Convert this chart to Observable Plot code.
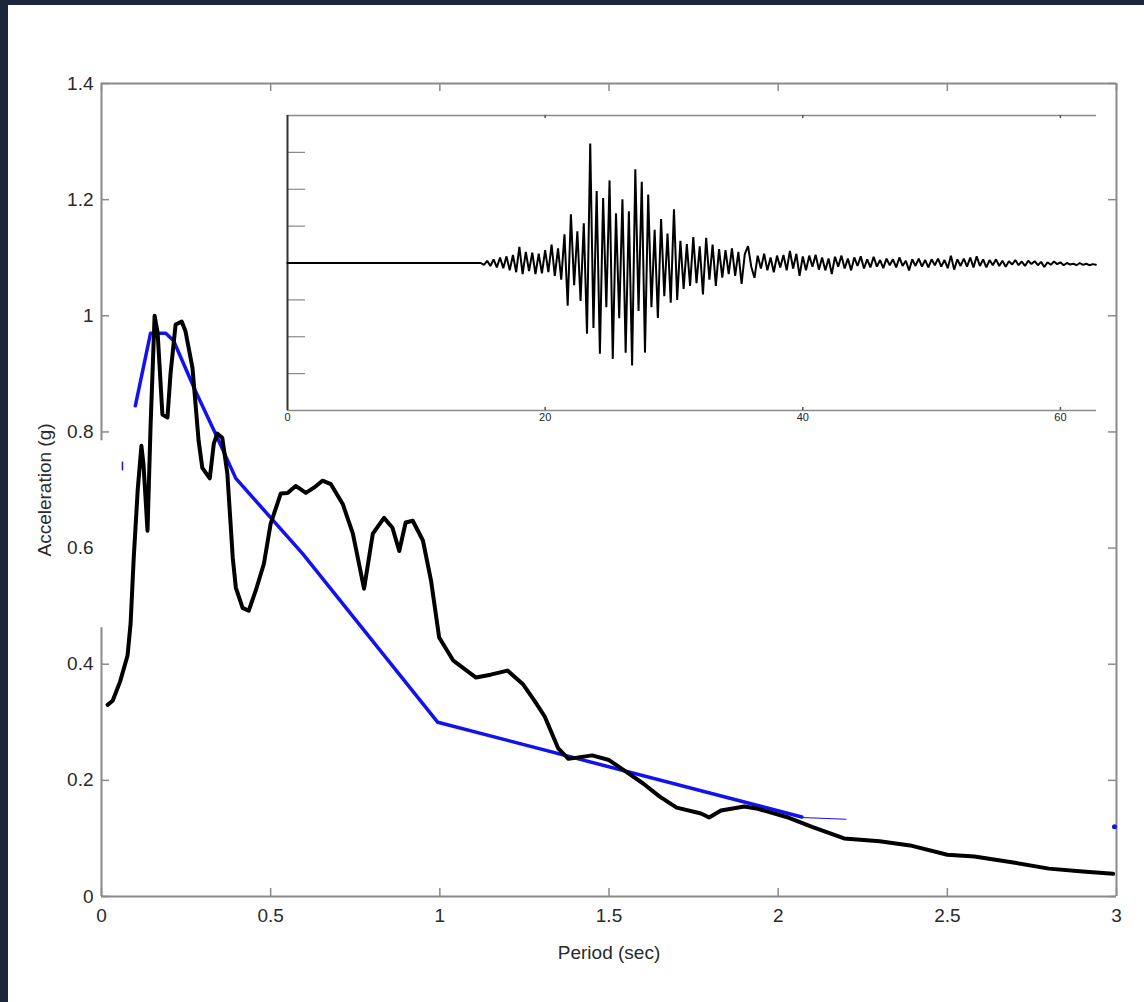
<!DOCTYPE html>
<html><head><meta charset="utf-8">
<script src="https://cdn.jsdelivr.net/npm/d3@7"></script>
<script src="https://cdn.jsdelivr.net/npm/@observablehq/plot@0.6"></script>
<style>
html,body{margin:0;padding:0;background:#1c2739;width:1144px;height:1002px;overflow:hidden;font-family:"Liberation Sans",Arial,sans-serif;}
#panel{position:absolute;left:8px;top:5px;width:1136px;height:997px;background:#fff;}
#main{position:absolute;left:0;top:0;}
#inset{position:absolute;left:250px;top:100px;}
</style></head><body>
<div id="panel"></div><div id="main"></div><div id="inset"></div>
<script>
// ---------- Response spectrum (black) ----------
const specPeriod = [0.018,0.033,0.055,0.077,0.086,0.095,0.107,0.118,0.124,0.136,0.145,0.157,0.166,0.180,0.195,0.204,0.219,0.237,0.248,0.269,0.287,0.298,0.320,0.332,0.342,0.357,0.372,0.388,0.397,0.417,0.435,0.456,0.480,0.500,0.530,0.550,0.574,0.604,0.628,0.653,0.678,0.713,0.743,0.776,0.802,0.835,0.860,0.880,0.899,0.920,0.950,0.974,0.998,1.04,1.107,1.15,1.20,1.245,1.28,1.31,1.35,1.38,1.45,1.50,1.55,1.60,1.65,1.70,1.772,1.796,1.831,1.90,1.94,2.03,2.10,2.195,2.30,2.39,2.50,2.58,2.70,2.80,2.90,2.99];
const specAccel = [0.33,0.337,0.37,0.415,0.47,0.58,0.70,0.776,0.745,0.63,0.81,1.0,0.97,0.83,0.825,0.90,0.985,0.99,0.974,0.91,0.785,0.738,0.72,0.78,0.797,0.79,0.728,0.583,0.532,0.497,0.492,0.527,0.573,0.642,0.694,0.695,0.707,0.695,0.704,0.716,0.71,0.676,0.625,0.53,0.625,0.652,0.635,0.595,0.644,0.647,0.613,0.544,0.446,0.406,0.377,0.382,0.389,0.366,0.337,0.31,0.255,0.237,0.243,0.235,0.215,0.195,0.172,0.153,0.143,0.136,0.148,0.155,0.151,0.136,0.12,0.10,0.095,0.088,0.072,0.069,0.058,0.048,0.043,0.039];

// ---------- Design spectrum (blue) ----------
const designPeriod = [0.10,0.145,0.19,0.213,0.278,0.337,0.397,0.595,0.994,2.07];
const designAccel  = [0.845,0.97,0.97,0.957,0.87,0.797,0.72,0.59,0.30,0.137];
const designTailPeriod = [2.07,2.2];
const designTailAccel  = [0.136,0.133];
const blueDotPeriod = [2.994];
const blueDotAccel  = [0.12];
const blueDashPeriod = [0.062];
const blueDashFrom = [0.733];
const blueDashTo = [0.748];

// ---------- Main axes ----------
const xTicks = [0,0.5,1,1.5,2,2.5,3];
const yTicks = [0,0.2,0.4,0.6,0.8,1,1.2,1.4];
const leftTicks = [0,0.2,0.4,0.8,1,1.2,1.4];
const leftAxisFrom = [0,0.785];
const leftAxisTo = [0.463,1.4];

// ---------- Inset accelerogram ----------
const quietTime = [0,15];
const quietVals = [0,0];
const traceStart = 15.25, traceStep = 0.25;
const traceVals = [
-0.05,0.06,-0.08,0.1,-0.12,0.15,-0.14,0.18,-0.2,0.22,-0.25,
0.44,-0.3,0.3,-0.22,0.28,-0.3,0.25,-0.28,0.35,-0.25,0.5,-0.35,
0.4,-0.45,0.78,-1.16,1.32,-0.6,0.86,-1.03,1.08,-1.92,3.24,-1.76,
1.95,-2.46,1.76,-1.2,2.24,-2.6,1.35,-1.5,1.73,-2.43,1.4,-2.78,
2.54,-1.3,2.2,-2.43,1.86,-1.2,0.9,-1.49,1.19,-0.9,0.8,-1.08,
1.46,-1.0,0.6,-0.7,0.51,-0.62,0.7,-0.55,0.45,-0.85,0.68,-0.45,
0.5,-0.62,0.38,-0.4,0.35,-0.3,0.4,-0.35,0.3,-0.57,0.25,0.46,
-0.1,-0.4,0.2,-0.15,0.25,-0.2,0.15,-0.25,0.2,-0.12,0.22,-0.2,
0.33,-0.15,0.25,-0.35,0.18,-0.2,0.2,-0.1,0.22,-0.18,0.15,-0.2,
0.12,-0.3,0.17,-0.1,0.2,-0.15,0.12,-0.2,0.15,-0.08,0.18,-0.15,
0.1,-0.12,0.17,-0.1,0.08,-0.14,0.12,-0.06,0.1,-0.12,0.15,-0.08,
0.06,-0.2,0.1,-0.08,0.12,-0.1,0.08,-0.12,0.1,-0.06,0.12,-0.1,
0.08,-0.14,0.2,-0.18,0.1,-0.08,0.12,-0.1,0.15,-0.12,0.18,-0.08,
0.1,-0.12,0.08,-0.06,0.1,-0.08,0.06,-0.1,0.05,-0.04,0.08,-0.06,
0.04,-0.08,0.06,-0.03,0.05,-0.06,0.03,-0.11,0.02,-0.05,0.04,-0.03,
0.02,-0.06,0.0,-0.04,-0.02,-0.06,0.0,-0.05,-0.02,-0.06,-0.03,-0.05];
const insetXTicks = [0,20,40,60];
const insetTopTicks = [20,40,60];
const insetYTicks = [-3,-2,-1,0,1,2,3];

// ---------- build tables ----------
const spec = specPeriod.map((p,i)=>({p, a:specAccel[i]}));
const design = designPeriod.map((p,i)=>({p, a:designAccel[i]}));
const designTail = designTailPeriod.map((p,i)=>({p, a:designTailAccel[i]}));
const blueDots = blueDotPeriod.map((p,i)=>({p, a:blueDotAccel[i]}));
const blueDash = blueDashPeriod.map((p,i)=>({p, a1:blueDashFrom[i], a2:blueDashTo[i]}));
const leftAxis = leftAxisFrom.map((f,i)=>({f, t:leftAxisTo[i]}));
const quiet = quietTime.map((t,i)=>({t, v:quietVals[i]}));
const trace = quiet.concat(traceVals.map((v,i)=>({t: traceStart + i*traceStep, v})));

const FONT = "Liberation Sans, Arial, Helvetica, sans-serif";
const W = 1144, H = 1002, mL = 101, mR = 28, mT = 83, mB = 106;
const iw = W - mL - mR, ih = H - mT - mB;
const AX = "#8a8a8a";
const fmt = d => String(d);

const main = Plot.plot({
  width: W, height: H,
  marginLeft: mL, marginRight: mR, marginTop: mT, marginBottom: mB,
  style: {background: "transparent", fontFamily: FONT, fontSize: "19px", color: "#2a2a2a"},
  x: {domain: [0, 3]},
  y: {domain: [0, 1.4]},
  marks: [
    Plot.ruleY([1.4], {stroke: AX, strokeWidth: 2}),
    Plot.ruleY([0], {stroke: AX, strokeWidth: 2}),
    Plot.ruleX([3], {stroke: AX, strokeWidth: 2}),
    Plot.ruleX(leftAxis, {x: 0, y1: "f", y2: "t", stroke: AX, strokeWidth: 2}),
    Plot.tickY(leftTicks, {y: d => d, insetRight: iw - 8, stroke: AX, strokeWidth: 1.5}),
    Plot.tickY(yTicks, {y: d => d, insetLeft: iw - 8, stroke: AX, strokeWidth: 1.5}),
    Plot.tickX(xTicks, {x: d => d, insetTop: ih - 8, stroke: AX, strokeWidth: 1.5}),
    Plot.tickX(xTicks, {x: d => d, insetBottom: ih - 8, stroke: AX, strokeWidth: 1.5}),
    Plot.axisX({ticks: xTicks, tickFormat: fmt, tickSize: 0, tickPadding: 12, stroke: "none",
      label: "Period (sec)", labelAnchor: "center", labelArrow: "none", labelOffset: 62}),
    Plot.axisY({ticks: yTicks, tickFormat: fmt, tickSize: 0, tickPadding: 8, stroke: "none",
      label: "Acceleration (g)", labelAnchor: "center", labelArrow: "none", labelOffset: 64}),
    Plot.line(design, {x: "p", y: "a", stroke: "#1212f0", strokeWidth: 3.5}),
    Plot.line(designTail, {x: "p", y: "a", stroke: "#1212f0", strokeWidth: 1.2}),
    Plot.dot(blueDots, {x: "p", y: "a", fill: "#1212f0", r: 2.5}),
    Plot.ruleX(blueDash, {x: "p", y1: "a1", y2: "a2", stroke: "#1212f0", strokeWidth: 1.5}),
    Plot.line(spec, {x: "p", y: "a", stroke: "#000", strokeWidth: 4, strokeLinejoin: "round"})
  ]
});
document.getElementById("main").appendChild(main);

const IW = 860, IH = 330, imL = 37, imR = 14, imT = 15, imB = 20;
const iiw = IW - imL - imR, iih = IH - imT - imB;
const inset = Plot.plot({
  width: IW, height: IH,
  marginLeft: imL, marginRight: imR, marginTop: imT, marginBottom: imB,
  style: {background: "transparent", fontFamily: FONT, fontSize: "11px", color: "#222"},
  x: {domain: [0, 62.8]},
  y: {domain: [-4, 4]},
  marks: [
    Plot.ruleY([4], {stroke: AX, strokeWidth: 1.5}),
    Plot.ruleY([-4], {stroke: AX, strokeWidth: 1.5}),
    Plot.tickY(insetYTicks, {y: d => d, insetRight: iiw - 18, stroke: AX, strokeWidth: 1.2}),
    Plot.tickX(insetTopTicks, {x: d => d, insetBottom: iih - 3, stroke: "#555", strokeWidth: 1.5}),
    Plot.tickX(insetTopTicks, {x: d => d, insetTop: iih - 3, stroke: "#555", strokeWidth: 1.5}),
    Plot.axisX({ticks: insetXTicks, tickSize: 0, tickPadding: 3, stroke: "none", label: null}),
    Plot.axisY({ticks: [], label: null}),
    Plot.ruleX([0], {stroke: "#333", strokeWidth: 2}),
    Plot.line(trace, {x: "t", y: "v", stroke: "#000", strokeWidth: 2, strokeLinejoin: "miter"})
  ]
});
document.getElementById("inset").appendChild(inset);
</script>
</body></html>
